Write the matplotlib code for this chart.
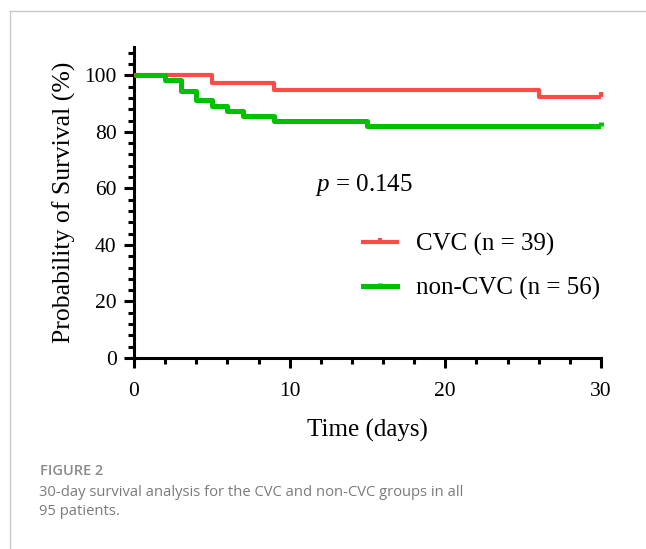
import matplotlib
matplotlib.use("Agg")
import matplotlib.pyplot as plt
from matplotlib.lines import Line2D
from matplotlib.ticker import MultipleLocator

# Data (Kaplan-Meier step values, %)
cvc_time = [0, 5, 9, 26, 30]
cvc_surv = [100.0, 97.4, 94.9, 92.3, 92.3]
noncvc_time = [0, 2, 3, 4, 5, 6, 7, 9, 15, 30]
noncvc_surv = [100.0, 98.2, 94.6, 91.1, 89.3, 87.5, 85.7, 83.9, 82.1, 82.1]
labels = ["CVC (n = 39)", "non-CVC (n = 56)"]
p_text = "0.145"

plt.rcParams["mathtext.fontset"] = "custom"
plt.rcParams["mathtext.rm"] = "Liberation Serif"
plt.rcParams["mathtext.it"] = "Liberation Serif:italic"

red = "#FF4A4A"
green = "#00C000"
serif = ["Liberation Serif", "DejaVu Serif"]

fig = plt.figure(figsize=(6.46, 5.49), dpi=100)
ax = fig.add_axes([0.2074, 0.3479, 0.7229, 0.5665])

tick_marker = [(0, 0), (0, 1)]
ax.step(cvc_time, cvc_surv, where="post", color=red, lw=3.0, solid_joinstyle="round",
        solid_capstyle="butt", zorder=3)
ax.step(noncvc_time, noncvc_surv, where="post", color=green, lw=3.6, solid_joinstyle="round",
        solid_capstyle="butt", zorder=3)
ax.plot([cvc_time[-1]], [cvc_surv[-1]], linestyle="none", marker=tick_marker, markersize=7,
        markeredgewidth=3.0, color=red, zorder=4, clip_on=False)
ax.plot([noncvc_time[-1]], [noncvc_surv[-1]], linestyle="none", marker=tick_marker, markersize=6,
        markeredgewidth=3.6, color=green, zorder=4, clip_on=False)

ax.set_xlim(0, 30)
ax.set_ylim(0, 110)
ax.set_xticks([0, 10, 20, 30])
ax.set_yticks([0, 20, 40, 60, 80, 100])
ax.xaxis.set_minor_locator(MultipleLocator(2))
ax.yaxis.set_minor_locator(MultipleLocator(4))
for s in ["top", "right"]:
    ax.spines[s].set_visible(False)
for s in ["left", "bottom"]:
    ax.spines[s].set_linewidth(2.2)
ax.tick_params(which="major", direction="out", length=7.5, width=2.2)
ax.tick_params(which="minor", direction="out", length=4, width=2.2)
ax.tick_params(axis="x", which="major", pad=10)
ax.tick_params(axis="y", which="major", pad=5)
for lab in ax.get_xticklabels() + ax.get_yticklabels():
    lab.set_fontfamily(serif)
    lab.set_fontsize(15.5)

ax.set_xlabel("Time (days)", fontfamily=serif, fontsize=18, labelpad=13)
ax.set_ylabel("Probability of Survival (%)", fontfamily=serif, fontsize=18.5, labelpad=6)

ax.text(0.388, 0.537, r"$p$ = " + p_text, transform=ax.transAxes, fontfamily=serif,
        fontsize=18, ha="left", va="baseline")

handles = [
    Line2D([], [], color=red, lw=3.0, marker=tick_marker, markersize=5.5, markeredgewidth=3.0),
    Line2D([], [], color=green, lw=3.6, marker=tick_marker, markersize=4.5, markeredgewidth=3.6),
]
leg = ax.legend(handles, labels, loc="upper left", bbox_to_anchor=(0.49, 0.403),
                frameon=False, prop={"family": serif, "size": 18}, handlelength=1.36,
                handletextpad=0.76, labelspacing=0.84, borderaxespad=0, borderpad=0)

# figure frame lines
fig.add_artist(Line2D([10 / 646, 10 / 646], [0, 1 - 11 / 549], transform=fig.transFigure,
                      color="#c8c8c8", lw=1.0))
fig.add_artist(Line2D([10 / 646, 1], [1 - 11 / 549, 1 - 11 / 549], transform=fig.transFigure,
                      color="#c8c8c8", lw=1.0))

fig.text(40 / 646, 1 - 471 / 549, "FIGURE 2", fontfamily="Open Sans", fontsize=10.5,
         fontweight="semibold", color="#8a8a8a", va="center", ha="left")
fig.text(39 / 646, 1 - 502 / 549,
         "30-day survival analysis for the CVC and non-CVC groups in all\n95 patients.",
         fontfamily="Open Sans", fontsize=10.6, color="#7a7a7a", va="center", ha="left",
         linespacing=1.38)

fig.savefig("out.png", dpi=100)
